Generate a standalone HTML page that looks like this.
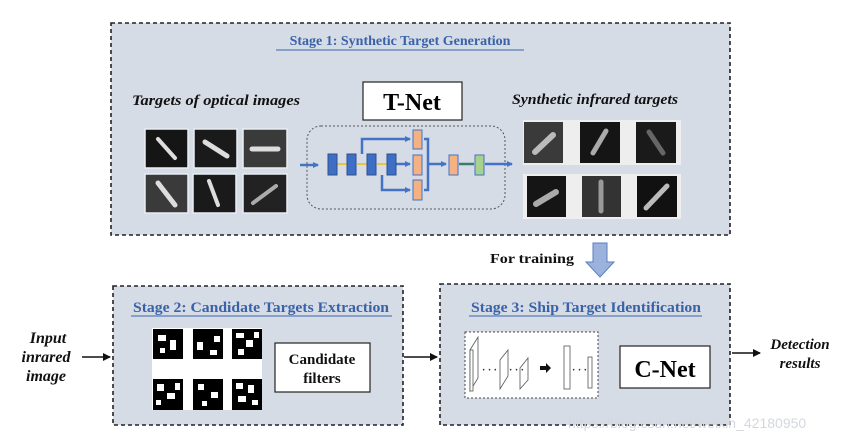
<!DOCTYPE html>
<html><head><meta charset="utf-8"><style>
html,body{margin:0;padding:0;background:#fff;}
svg{display:block;}
text{font-family:"Liberation Serif",serif;font-weight:bold;}
</style></head><body>
<svg width="850" height="439" viewBox="0 0 850 439" xmlns="http://www.w3.org/2000/svg">
<defs>
<marker id="ab" markerWidth="6" markerHeight="6" refX="5" refY="3" orient="auto" markerUnits="userSpaceOnUse"><path d="M0,0 L6,3 L0,6 z" fill="#4472c4"/></marker>
<marker id="ak" markerWidth="8" markerHeight="8" refX="7" refY="4" orient="auto" markerUnits="userSpaceOnUse"><path d="M0,0 L8,4 L0,8 z" fill="#111"/></marker>
</defs>
<!-- Stage 1 -->
<rect x="111" y="23" width="619" height="212" fill="#d6dce6" stroke="#222" stroke-width="1.6" stroke-dasharray="4,3"/>
<text x="400" y="45" font-size="14" fill="#3a62a8" text-anchor="middle">Stage 1: Synthetic Target Generation</text>
<line x1="276" y1="50" x2="524" y2="50" stroke="#3a62a8" stroke-width="1"/>
<text x="132" y="105" font-size="15" font-style="italic" fill="#111" textLength="168" lengthAdjust="spacingAndGlyphs">Targets of optical  images</text>
<text x="512" y="104" font-size="15" font-style="italic" fill="#111" textLength="166" lengthAdjust="spacingAndGlyphs">Synthetic infrared targets</text>
<rect x="363" y="82" width="99" height="38" fill="#fff" stroke="#222" stroke-width="1.2"/>
<text x="412" y="110" font-size="24" text-anchor="middle" fill="#000">T-Net</text>
<!-- optical images -->
<g stroke="#e8edf3" stroke-width="1.5">
<rect x="145" y="129" width="43" height="39" fill="#151515"/>
<rect x="194" y="129" width="43" height="39" fill="#1a1a1a"/>
<rect x="243" y="129" width="44" height="39" fill="#3a3a3a"/>
<rect x="145" y="174" width="43" height="39" fill="#3a3a3a"/>
<rect x="193" y="174" width="43" height="39" fill="#1a1a1a"/>
<rect x="243" y="174" width="44" height="39" fill="#222"/>
</g>
<g stroke="#ddd" stroke-linecap="round">
<line x1="158" y1="139" x2="175" y2="158" stroke-width="4"/>
<line x1="205" y1="142" x2="227" y2="156" stroke-width="5"/>
<line x1="252" y1="149" x2="278" y2="149" stroke-width="5"/>
<line x1="158" y1="183" x2="175" y2="205" stroke-width="5"/>
<line x1="209" y1="181" x2="218" y2="205" stroke-width="4"/>
<line x1="253" y1="203" x2="276" y2="186" stroke-width="4" stroke="#aaa"/>
</g>
<!-- synthetic -->
<rect x="523" y="120" width="158" height="45" fill="#eeeeee"/>
<rect x="523" y="174" width="158" height="45" fill="#eeeeee"/>
<rect x="524" y="122" width="39" height="41" fill="#3a3a3a"/>
<rect x="580" y="122" width="40" height="41" fill="#151515"/>
<rect x="636" y="122" width="40" height="41" fill="#1a1a1a"/>
<rect x="527" y="176" width="39" height="41" fill="#151515"/>
<rect x="582" y="176" width="39" height="41" fill="#333"/>
<rect x="637" y="176" width="40" height="41" fill="#111"/>
<g stroke-linecap="round">
<line x1="535" y1="152" x2="553" y2="135" stroke="#bbb" stroke-width="6"/>
<line x1="593" y1="153" x2="606" y2="131" stroke="#aaa" stroke-width="5"/>
<line x1="649" y1="132" x2="663" y2="153" stroke="#666" stroke-width="5"/>
<line x1="536" y1="204" x2="556" y2="192" stroke="#aaa" stroke-width="6"/>
<line x1="601" y1="182" x2="601" y2="211" stroke="#999" stroke-width="5"/>
<line x1="646" y1="208" x2="667" y2="186" stroke="#bbb" stroke-width="5"/>
</g>
<!-- T-Net network -->
<rect x="307" y="126" width="198" height="83" rx="14" fill="none" stroke="#555" stroke-width="1" stroke-dasharray="2,2"/>
<g stroke="#4472c4" stroke-width="2.5" fill="none">
<line x1="300" y1="165" x2="318" y2="165" marker-end="url(#ab)"/>
<path d="M362,154 V139 H410" marker-end="url(#ab)"/>
<line x1="396" y1="164" x2="410" y2="164" marker-end="url(#ab)"/>
<path d="M382,175 V190 H410" marker-end="url(#ab)"/>
<path d="M424,139 H428 V190 H424"/>
<line x1="428" y1="164" x2="446" y2="164" marker-end="url(#ab)"/>
<line x1="485" y1="164" x2="512" y2="164" marker-end="url(#ab)"/>
</g>
<g stroke="#e8c440" stroke-width="2"><line x1="337" y1="164" x2="347" y2="164"/><line x1="357" y1="164" x2="367" y2="164"/><line x1="377" y1="164" x2="387" y2="164"/></g>
<line x1="459" y1="164" x2="474" y2="164" stroke="#3c7a6a" stroke-width="2.5"/>
<g fill="#3f6fc4" stroke="#2d4f90" stroke-width="1">
<rect x="328" y="154" width="9" height="21"/><rect x="347" y="154" width="9" height="21"/>
<rect x="367" y="154" width="9" height="21"/><rect x="387" y="154" width="9" height="21"/>
</g>
<g fill="#f4b183" stroke="#4472c4" stroke-width="1">
<rect x="413" y="130" width="9" height="19"/><rect x="413" y="155" width="9" height="20"/><rect x="413" y="180" width="9" height="20"/>
<rect x="449" y="155" width="9" height="20"/>
</g>
<rect x="475" y="155" width="9" height="20" fill="#a9d18e" stroke="#4472c4"/>
<!-- For training -->
<text x="490" y="263" font-size="14" fill="#111" textLength="84" lengthAdjust="spacingAndGlyphs">For training</text>
<path d="M593,243 H607 V262 H614 L600,277 L586,262 H593 Z" fill="#9bb3dc" stroke="#5a7fc0" stroke-width="1"/>
<!-- Stage 2 -->
<rect x="113" y="286" width="290" height="139" fill="#d6dce6" stroke="#222" stroke-width="1.6" stroke-dasharray="4,3"/>
<text x="261" y="312" font-size="15" fill="#3a62a8" text-anchor="middle" textLength="256" lengthAdjust="spacingAndGlyphs">Stage 2: Candidate Targets Extraction</text>
<line x1="131" y1="316" x2="392" y2="316" stroke="#3a62a8" stroke-width="1"/>
<rect x="152" y="328" width="110" height="82" fill="#fff"/>
<g fill="#000">
<rect x="153" y="329" width="30" height="30"/><rect x="193" y="329" width="30" height="30"/><rect x="232" y="329" width="30" height="30"/>
<rect x="153" y="379" width="30" height="31"/><rect x="193" y="379" width="30" height="31"/><rect x="232" y="379" width="30" height="31"/>
</g>
<g fill="#fff">
<rect x="158" y="335" width="8" height="6"/><rect x="170" y="340" width="6" height="10"/><rect x="160" y="348" width="5" height="5"/>
<rect x="197" y="342" width="6" height="8"/><rect x="214" y="336" width="6" height="6"/><rect x="210" y="350" width="7" height="5"/>
<rect x="236" y="333" width="8" height="5"/><rect x="246" y="340" width="7" height="7"/><rect x="238" y="349" width="6" height="6"/><rect x="254" y="332" width="5" height="6"/>
<rect x="157" y="384" width="7" height="7"/><rect x="167" y="393" width="8" height="6"/><rect x="156" y="400" width="5" height="5"/><rect x="175" y="383" width="5" height="7"/>
<rect x="198" y="384" width="6" height="6"/><rect x="211" y="392" width="7" height="6"/><rect x="202" y="401" width="5" height="5"/>
<rect x="236" y="383" width="7" height="6"/><rect x="248" y="385" width="6" height="8"/><rect x="238" y="396" width="8" height="6"/><rect x="252" y="400" width="6" height="5"/>
</g>
<rect x="275" y="343" width="95" height="49" fill="#fff" stroke="#222" stroke-width="1.2"/>
<text x="322" y="364" font-size="15" text-anchor="middle" fill="#111">Candidate</text>
<text x="322" y="383" font-size="15" text-anchor="middle" fill="#111">filters</text>
<!-- Stage 3 -->
<rect x="440" y="284" width="290" height="141" fill="#d6dce6" stroke="#222" stroke-width="1.6" stroke-dasharray="4,3"/>
<text x="586" y="312" font-size="15" fill="#3a62a8" text-anchor="middle" textLength="230" lengthAdjust="spacingAndGlyphs">Stage 3: Ship Target Identification</text>
<line x1="469" y1="316" x2="702" y2="316" stroke="#3a62a8" stroke-width="1"/>
<rect x="465" y="332" width="133" height="66" fill="#fff" stroke="#444" stroke-width="1" stroke-dasharray="2,2"/>
<g fill="#fff" stroke="#555" stroke-width="0.8">
<path d="M470,350 L478,337 V378 L470,391 Z"/><rect x="470" y="350" width="3" height="41"/>
<path d="M500,360 L508,350 V376 L500,389 Z"/>
<path d="M520,368 L528,358 V380 L520,389 Z"/>
<rect x="564" y="346" width="6" height="43"/><rect x="588" y="357" width="4" height="31"/>
</g>
<text x="482" y="373" font-size="10" fill="#333">· · ·</text>
<text x="509" y="373" font-size="10" fill="#333">· · ·</text>
<text x="572" y="373" font-size="10" fill="#333">· · ·</text>
<path d="M540,366 H546 V363 L551,368 L546,373 V370 H540 Z" fill="#111"/>
<rect x="620" y="346" width="90" height="42" fill="#fff" stroke="#222" stroke-width="1.2"/>
<text x="665" y="377" font-size="24" text-anchor="middle" fill="#000">C-Net</text>
<!-- arrows and side labels -->
<text x="48" y="343" font-size="16" font-style="italic" text-anchor="middle" fill="#111">Input</text>
<text x="46" y="362" font-size="16" font-style="italic" text-anchor="middle" fill="#111">inrared</text>
<text x="46" y="381" font-size="16" font-style="italic" text-anchor="middle" fill="#111">image</text>
<line x1="82" y1="357" x2="110" y2="357" stroke="#111" stroke-width="1.6" marker-end="url(#ak)"/>
<line x1="404" y1="357" x2="437" y2="357" stroke="#111" stroke-width="1.6" marker-end="url(#ak)"/>
<line x1="732" y1="353" x2="760" y2="353" stroke="#111" stroke-width="1.6" marker-end="url(#ak)"/>
<text x="800" y="349" font-size="15" font-style="italic" text-anchor="middle" fill="#111">Detection</text>
<text x="800" y="368" font-size="15" font-style="italic" text-anchor="middle" fill="#111">results</text>
<text x="568" y="428" font-size="14" fill="#d4d8de" style="font-family:'Liberation Sans',sans-serif;font-weight:normal">https://blog.csdn.net/weixin_42180950</text>
</svg>
</body></html>
